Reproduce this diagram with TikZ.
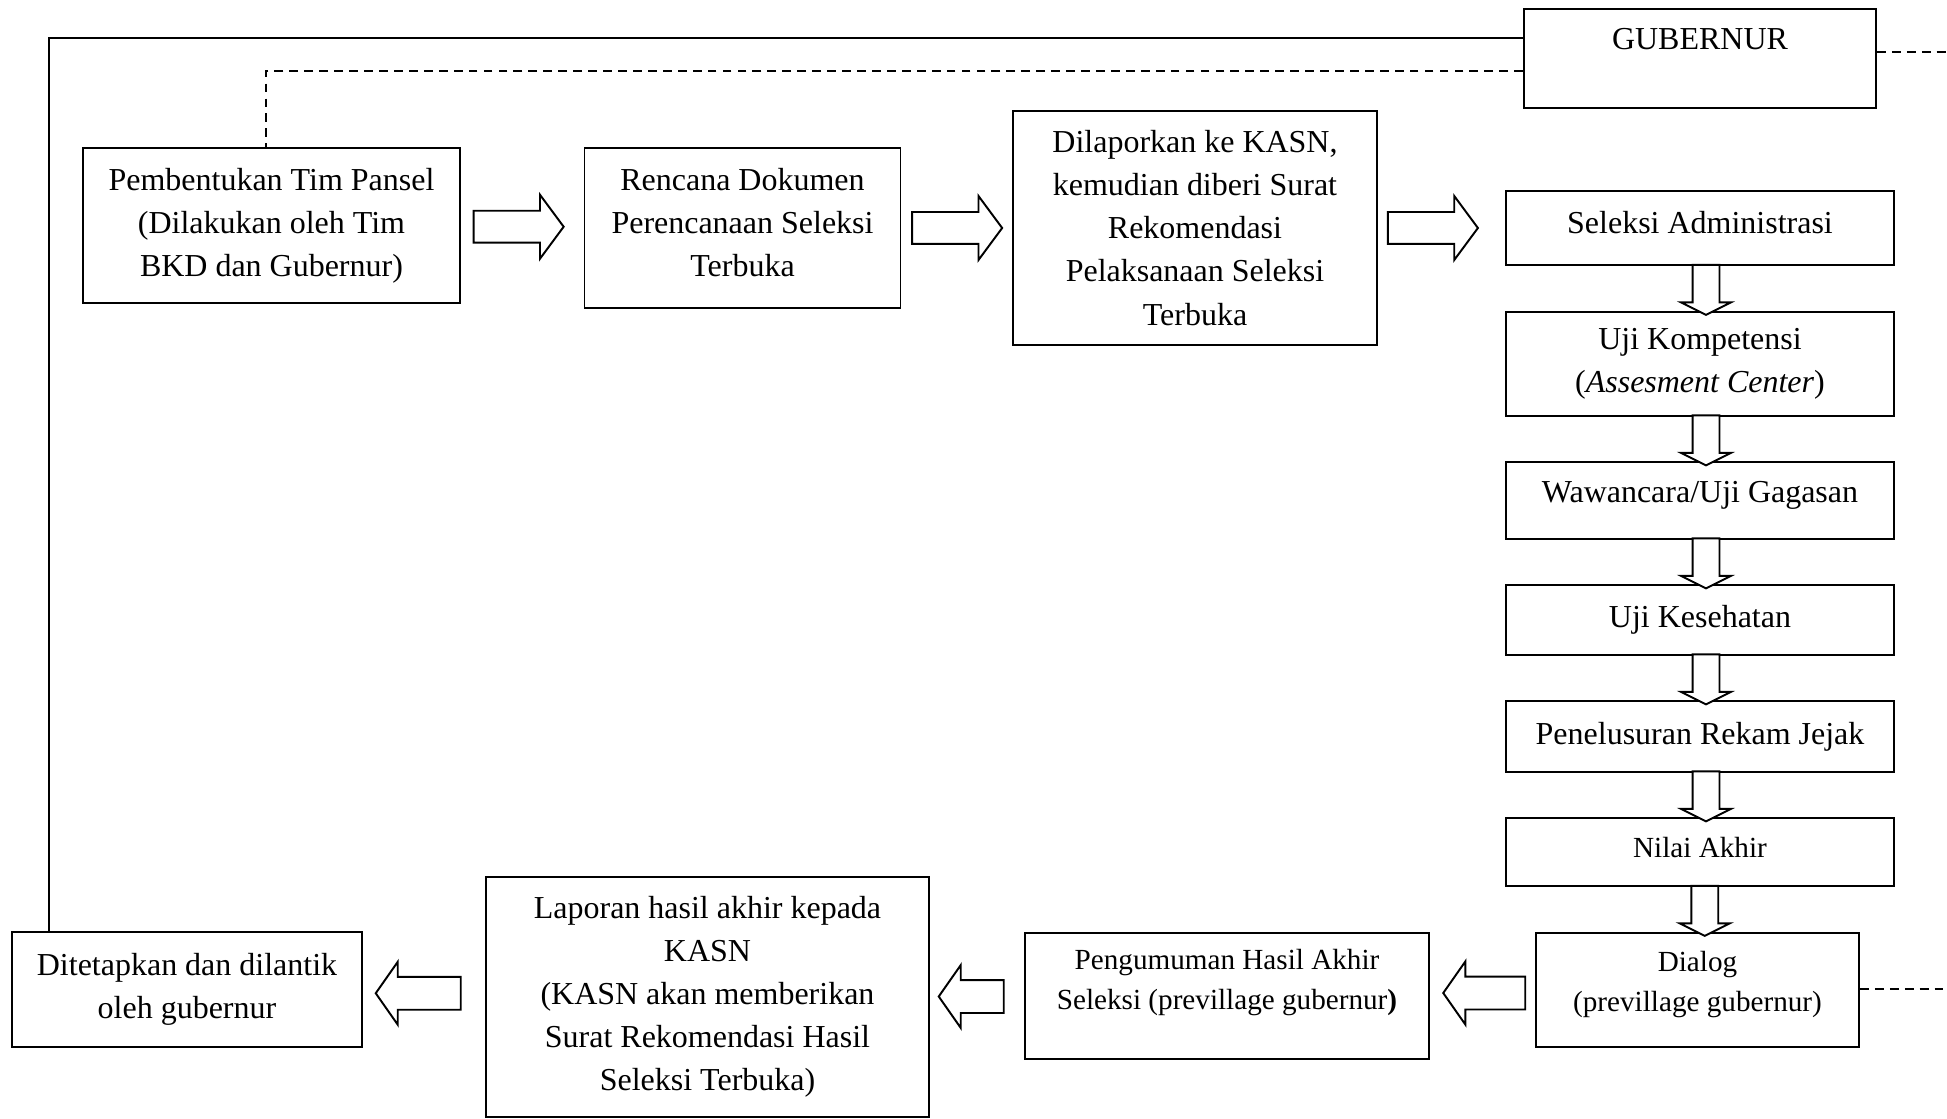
\documentclass[tikz,border=0pt]{standalone}
\usepackage{fontspec}
\setmainfont{Liberation Serif}
\usepackage{tikz}
\usetikzlibrary{calc}
\usetikzlibrary{shapes,arrows}
\usetikzlibrary{positioning}
\tikzstyle{procnode}=[black, draw=black, line width=1.1pt, shape=rectangle, fill=white, align=center, inner sep=2pt, font=\fontsize{18.2pt}{24.5pt}\selectfont]
\tikzstyle{smallnode}=[procnode, font=\fontsize{16.6pt}{22.8pt}\selectfont]
\tikzstyle{blockarrow}=[black, draw=black, line width=1.1pt, shape=single arrow, fill=white, single arrow head indent=0pt]
\tikzstyle{rightarrow}=[blockarrow, inner sep=0.30cm, minimum height=1.8cm, minimum width=1.24cm, single arrow head extend=0.32cm, single arrow tip angle=107]
\tikzstyle{downarrow}=[blockarrow, inner sep=0.25cm, shape border rotate=270, minimum height=1.0cm, minimum width=0.96cm, single arrow head extend=0.23cm, single arrow tip angle=127, xshift=0.12cm, yshift=0.04cm]
\tikzstyle{leftarrow}=[blockarrow, inner sep=0.31cm, shape border rotate=180, minimum width=1.22cm, single arrow head extend=0.30cm, single arrow tip angle=110]
\tikzstyle{solidline}=[line width=1.1pt, color=black]
\tikzstyle{dashline}=[line width=1.1pt, color=black, dash pattern=on 5pt off 3.5pt]

\begin{document}
\begin{tikzpicture}
\useasboundingbox (0,0) rectangle (38.94,22.36);

% top row
\node [procnode, minimum width=7.04cm, minimum height=1.98cm, text height=0.72cm, text depth=1.06cm, inner sep=0.1cm] (gub) at (34.0,21.19) {GUBERNUR};
\node [procnode, minimum width=7.54cm, minimum height=3.10cm] (pansel) at (5.43,17.85) {Pembentukan Tim Pansel\\(Dilakukan oleh Tim\\BKD dan Gubernur)};
\node [procnode, minimum width=6.32cm, minimum height=3.20cm, text depth=0.24cm] (rencana) at (14.85,17.80) {Rencana Dokumen\\Perencanaan Seleksi\\Terbuka};
\node [procnode, minimum width=7.28cm, minimum height=4.68cm] (lapor) at (23.9,17.8) {Dilaporkan ke KASN,\\kemudian diberi Surat\\Rekomendasi\\Pelaksanaan Seleksi\\Terbuka};

% right column
\node [procnode, minimum width=7.76cm, minimum height=1.48cm, text depth=0.24cm] (seladm) at (34.0,17.8) {Seleksi Administrasi};
\node [procnode, minimum width=7.76cm, minimum height=2.08cm] (ujikom) at (34.0,15.08) {Uji Kompetensi\\(\textit{Assesment Center})};
\node [procnode, minimum width=7.76cm, minimum height=1.54cm, text depth=0.34cm] (wawan) at (34.0,12.35) {Wawancara/Uji Gagasan};
\node [procnode, minimum width=7.76cm, minimum height=1.40cm] (ujikes) at (34.0,9.96) {Uji Kesehatan};
\node [procnode, minimum width=7.76cm, minimum height=1.42cm] (telusur) at (34.0,7.63) {Penelusuran Rekam Jejak};
\node [smallnode, minimum width=7.76cm, minimum height=1.36cm, text depth=0.2cm] (nilai) at (34.0,5.32) {Nilai Akhir};

% bottom row
\node [smallnode, minimum width=6.46cm, minimum height=2.28cm, text depth=0.36cm] (dialog) at (33.95,2.56) {Dialog\\(previllage gubernur)};
\node [smallnode, minimum width=8.08cm, minimum height=2.52cm, text depth=0.66cm] (umum) at (24.54,2.44) {Pengumuman Hasil Akhir\\Seleksi (previllage gubernur\textbf{)}};
\node [procnode, minimum width=8.86cm, minimum height=4.80cm] (hasil) at (14.15,2.42) {Laporan hasil akhir kepada\\KASN\\(KASN akan memberikan\\Surat Rekomendasi Hasil\\Seleksi Terbuka)};
\node [procnode, minimum width=7.0cm, minimum height=2.30cm] (tetap) at (3.74,2.57) {Ditetapkan dan dilantik\\oleh gubernur};

% block arrows
\node [rightarrow, xshift=-0.19cm] (ar1) at ($(pansel.east)!0.5!(rencana.west)$) {};
\node [rightarrow, xshift=-0.11cm] (ar2) at ($(rencana.east)!0.5!(lapor.west)$) {};
\node [rightarrow, xshift=-0.29cm] (ar3) at ($(lapor.east)!0.5!(seladm.west)$) {};

\node [downarrow] (ad1) at ($(seladm.south)!0.5!(ujikom.north)$) {};
\node [downarrow] (ad2) at ($(ujikom.south)!0.5!(wawan.north)$) {};
\node [downarrow] (ad3) at ($(wawan.south)!0.5!(ujikes.north)$) {};
\node [downarrow] (ad4) at ($(ujikes.south)!0.5!(telusur.north)$) {};
\node [downarrow] (ad5) at ($(telusur.south)!0.5!(nilai.north)$) {};
\node [downarrow] (ad6) at ($(nilai.south)!0.5!(dialog.north)$) {};

\node [leftarrow, minimum height=1.64cm, xshift=0.15cm] (al1) at ($(umum.east)!0.5!(dialog.west)$) {};
\node [leftarrow, minimum height=1.30cm] (al2) at ($(hasil.east)!0.5!(umum.west)$) {};
\node [leftarrow, minimum height=1.70cm] (al3) at ($(tetap.east)!0.5!(hasil.west)$) {};

% lines to gubernur
\coordinate (edgetop) at (38.94,21.32);
\coordinate (edgebot) at (38.94,2.58);
\draw[solidline] ([yshift=0.41cm]gub.west) -| ([xshift=-2.76cm]tetap.north);
\draw[dashline] ([yshift=-0.25cm]gub.west) -| ([xshift=-0.11cm]pansel.north);
\draw[dashline] (gub.east |- edgetop) -- (edgetop);
\draw[dashline] (dialog.east |- edgebot) -- (edgebot);
\end{tikzpicture}
\end{document}
